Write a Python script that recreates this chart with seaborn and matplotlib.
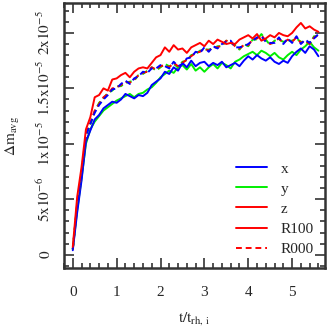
import matplotlib
matplotlib.use("Agg")
import matplotlib.pyplot as plt
from matplotlib.lines import Line2D
from matplotlib.ticker import MultipleLocator, FixedLocator
import numpy as np
import pandas as pd
import seaborn as sns

# time in units of t_rh,i
t = [0.0, 0.1, 0.2, 0.3, 0.4, 0.5, 0.6, 0.7, 0.8, 0.9,
     1.0, 1.1, 1.2, 1.3, 1.4, 1.5, 1.6, 1.7, 1.8, 1.9,
     2.0, 2.1, 2.2, 2.3, 2.4, 2.5, 2.6, 2.7, 2.8, 2.9,
     3.0, 3.1, 3.2, 3.3, 3.4, 3.5, 3.6, 3.7, 3.8, 3.9,
     4.0, 4.1, 4.2, 4.3, 4.4, 4.5, 4.6, 4.7, 4.8, 4.9,
     5.0, 5.1, 5.2, 5.3, 5.4, 5.5, 5.6]

# values in units of 1e-6
r100_x = [0.4, 3.8, 6.7, 10.2, 11.2, 12.2, 12.6, 13.2, 13.5, 13.8,
          13.7, 14.0, 14.5, 14.3, 14.1, 14.4, 14.3, 14.6, 15.3, 15.6,
          15.9, 16.5, 16.3, 16.9, 16.6, 17.3, 16.9, 17.5, 17.0, 17.3,
          17.4, 17.0, 17.3, 17.1, 17.4, 16.9, 17.1, 17.3, 17.0, 17.5,
          17.9, 17.6, 18.0, 17.7, 17.5, 17.8, 17.4, 17.2, 17.5, 17.3,
          17.9, 18.3, 18.6, 18.2, 18.8, 18.5, 17.9]
r100_y = [0.5, 4.0, 6.9, 10.0, 11.3, 12.0, 12.5, 13.0, 13.3, 13.6,
          13.9, 14.1, 14.3, 14.5, 14.2, 14.5, 14.6, 14.9, 15.1, 15.5,
          16.0, 16.3, 16.6, 16.4, 16.9, 17.1, 16.7, 17.2, 16.6, 16.9,
          16.5, 16.9, 17.2, 16.8, 17.3, 17.1, 16.8, 17.4, 17.6, 17.9,
          18.1, 18.3, 18.0, 18.4, 18.2, 17.9, 18.2, 17.8, 17.6, 18.0,
          18.3, 18.0, 18.5, 18.8, 19.2, 18.7, 18.4]
r100_z = [0.7, 5.2, 7.9, 11.3, 12.4, 14.2, 14.4, 15.0, 14.8, 15.8,
          15.9, 16.2, 16.4, 16.0, 16.5, 16.8, 16.9, 16.8, 17.3, 17.8,
          18.0, 18.7, 18.3, 18.9, 18.5, 18.6, 18.2, 18.7, 18.9, 19.1,
          18.8, 19.3, 19.0, 19.4, 19.2, 19.0, 19.1, 19.0, 19.4, 19.6,
          19.8, 19.5, 19.9, 19.3, 19.5, 19.8, 19.6, 20.0, 19.8, 19.7,
          20.0, 20.5, 20.9, 20.4, 20.6, 20.3, 20.1]
r000_x = [0.5, 4.4, 7.2, 10.7, 11.8, 12.8, 13.5, 14.0, 14.4, 14.9,
          15.0, 15.4, 15.7, 15.4, 15.9, 16.1, 16.5, 16.4, 16.8, 16.8,
          17.1, 17.0, 16.8, 17.4, 17.0, 17.2, 17.7, 17.8, 18.3, 18.2,
          18.7, 18.3, 18.8, 18.6, 19.0, 19.2, 19.3, 18.7, 18.7, 18.8,
          19.0, 19.3, 19.6, 19.7, 19.2, 19.1, 19.1, 19.6, 19.0, 19.5,
          19.1, 19.7, 19.0, 19.4, 19.1, 19.5, 19.9]
r000_y = [0.5, 4.5, 7.3, 10.8, 11.7, 12.9, 13.7, 14.1, 14.6, 14.8,
          15.2, 15.2, 15.5, 15.6, 15.7, 16.2, 16.3, 16.6, 16.9, 16.6,
          16.9, 17.2, 17.0, 17.2, 16.9, 17.4, 17.5, 18.0, 18.1, 18.4,
          18.5, 18.5, 18.6, 18.8, 18.8, 19.3, 19.1, 18.9, 18.5, 19.0,
          18.8, 19.4, 19.4, 19.9, 19.4, 18.9, 19.3, 19.4, 19.2, 19.3,
          19.3, 19.5, 19.2, 19.2, 19.0, 19.7, 19.7]
r000_z = [0.5, 4.6, 7.4, 10.9, 11.9, 13.0, 13.6, 14.2, 14.5, 15.0,
          15.1, 15.3, 15.6, 15.5, 15.8, 16.2, 16.4, 16.5, 16.9, 16.7,
          17.0, 17.1, 16.9, 17.3, 17.0, 17.3, 17.6, 17.9, 18.2, 18.3,
          18.6, 18.4, 18.7, 18.7, 18.9, 19.3, 19.2, 18.8, 18.6, 18.9,
          18.9, 19.4, 19.5, 19.8, 19.3, 19.0, 19.2, 19.5, 19.1, 19.4,
          19.2, 19.6, 19.1, 19.3, 19.0, 19.6, 19.8]

legend_labels = ["x", "y", "z", "R100", "R000"]
ytick_vals = [0, 5e-6, 1e-5, 1.5e-5, 2e-5]
ytick_labels = [r"$0$", r"$5\mathrm{x}10^{-6}$", r"$1\mathrm{x}10^{-5}$",
                r"$1.5\mathrm{x}10^{-5}$", r"$2\mathrm{x}10^{-5}$"]

sns.set_style("ticks")
plt.rcParams["font.family"] = ["Liberation Serif", "DejaVu Serif"]
plt.rcParams["mathtext.fontset"] = "stix"
plt.rcParams["font.size"] = 11

BLUE, GREEN, RED = "#0000ff", "#00ee00", "#ff0000"
FRAME = "#333333"
DASH = (0, (3, 2))

fig = plt.figure(figsize=(3.29, 3.29), dpi=100)
ax = fig.add_axes([64 / 329, 1 - 268 / 329, 261 / 329, 265 / 329])

series = [
    (r100_y, GREEN, "-"), (r100_x, BLUE, "-"),
    (r000_y, GREEN, DASH), (r000_z, RED, DASH), (r000_x, BLUE, DASH),
    (r100_z, RED, "-"),
]
for vals, col, ls in series:
    sns.lineplot(x=t, y=np.array(vals) * 1e-6, color=col, linestyle=ls,
                 linewidth=1.4, ax=ax, legend=False)

ax.set_xlim(-0.2, 5.75)
ax.set_ylim(-1.2e-6, 22.7e-6)
ax.xaxis.set_major_locator(MultipleLocator(1))
ax.xaxis.set_minor_locator(MultipleLocator(0.2))
ax.yaxis.set_major_locator(FixedLocator(ytick_vals))
ax.yaxis.set_minor_locator(MultipleLocator(1e-6))
ax.set_yticklabels(ytick_labels, rotation=90, va="center")
ax.tick_params(which="both", direction="in", top=True, right=True, color=FRAME,
               width=1.2, labelsize=11)
ax.tick_params(which="major", length=7)
ax.tick_params(which="minor", length=3.5)
ax.tick_params(axis="x", pad=13)
ax.tick_params(axis="y", pad=8)
for s in ax.spines.values():
    s.set_color(FRAME)
    s.set_linewidth(1.8)

ax.set_xlabel(r"$\mathrm{t/t_{rh,\,i}}$", fontsize=11, labelpad=8)
ax.set_ylabel(r"$\Delta\mathrm{m_{avg}}$", fontsize=11, labelpad=10)

handles = [Line2D([], [], color=BLUE, lw=1.4), Line2D([], [], color=GREEN, lw=1.4),
           Line2D([], [], color=RED, lw=1.4), Line2D([], [], color=RED, lw=1.4),
           Line2D([], [], color=RED, lw=1.4, linestyle=DASH)]
ax.legend(handles, legend_labels, loc="lower right", bbox_to_anchor=(0.98, 0.022),
          frameon=False, handlelength=2.0, handletextpad=0.9, labelspacing=0.42,
          fontsize=11, borderaxespad=0)

fig.savefig("out.png", dpi=100)
